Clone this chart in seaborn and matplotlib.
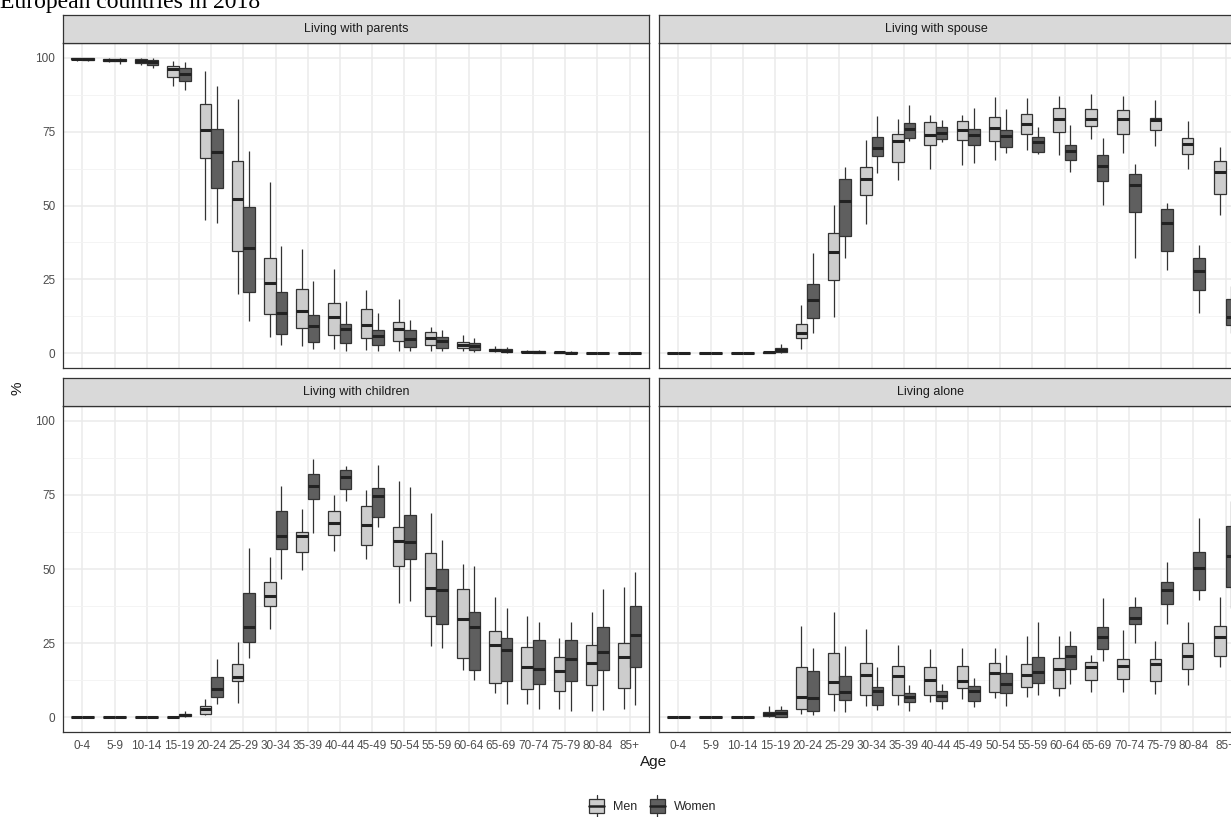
import numpy as np
import pandas as pd
import matplotlib
matplotlib.use("Agg")
import matplotlib.pyplot as plt
from matplotlib.patches import Patch, Rectangle
from matplotlib.lines import Line2D
from matplotlib.legend_handler import HandlerBase
import seaborn as sns

# age groups on the x axis
ages = ["0-4", "5-9", "10-14", "15-19", "20-24", "25-29", "30-34", "35-39", "40-44",
        "45-49", "50-54", "55-59", "60-64", "65-69", "70-74", "75-79", "80-84", "85+"]

panels = ["Living with parents", "Living with spouse", "Living with children", "Living alone"]

# five-number summaries: [lower whisker, Q1, median, Q3, upper whisker]
parents_men = [
    [99, 99.5, 99.7, 100, 100], [98.5, 99, 99.3, 99.7, 100], [97.5, 98.3, 99, 99.5, 100],
    [90.6, 93.5, 96.3, 97.1, 99], [45, 66, 75.5, 84.5, 95.4], [20.2, 34.5, 52.3, 65.2, 86.1],
    [5.5, 13.2, 23.9, 32.3, 58.1], [2.5, 8.7, 14.4, 21.6, 35.4], [1.6, 6.3, 12.3, 17, 28.4],
    [1.1, 5.3, 9.7, 15.1, 21.5], [0.9, 4.2, 8.1, 10.5, 18.2], [0.9, 2.7, 5.2, 7.2, 8.8],
    [0.8, 1.8, 2.8, 3.8, 6.2], [0.3, 0.7, 1.1, 1.6, 2.5], [0.1, 0.3, 0.5, 0.7, 1.2],
    [0, 0.1, 0.3, 0.4, 0.7], [0, 0.05, 0.1, 0.2, 0.4], [0, 0, 0.05, 0.1, 0.2]]
parents_women = [
    [99, 99.4, 99.6, 99.9, 100], [98, 98.8, 99.2, 99.6, 100], [96.5, 97.5, 98.5, 99.3, 100],
    [89, 92.2, 94.5, 96.7, 98.7], [44, 56, 68, 76, 90.5], [10.8, 20.6, 35.6, 49.5, 68.6],
    [2.7, 6.5, 13.5, 20.7, 36.3], [1.6, 3.8, 9.2, 12.9, 24.5], [0.7, 3.3, 8.1, 9.8, 17.6],
    [0.7, 2.9, 5.8, 7.9, 13.7], [0.7, 2.1, 4.7, 7.8, 11.1], [0.6, 1.8, 4.1, 5.5, 7.8],
    [0.5, 1.2, 2.3, 3.5, 5], [0.2, 0.5, 0.9, 1.3, 2.2], [0.1, 0.2, 0.4, 0.6, 1.0],
    [0, 0.1, 0.2, 0.3, 0.6], [0, 0.05, 0.1, 0.2, 0.3], [0, 0, 0.05, 0.1, 0.2]]

spouse_men = [
    [0, 0, 0, 0, 0.2], [0, 0, 0, 0, 0.2], [0, 0, 0, 0, 0.2],
    [0, 0.1, 0.3, 0.5, 0.8], [1.35, 5, 7, 9.8, 16.3], [12.1, 24.7, 34.2, 40.8, 50.1],
    [43.9, 53.6, 59, 62.9, 72.3], [58.8, 64.6, 71.7, 74.2, 79.3], [62.5, 70.6, 73.8, 78.4, 80.7],
    [63.6, 72.1, 75.7, 78.5, 80.5], [65.3, 71.7, 76.2, 80, 86.7], [68.7, 74.3, 77.7, 81, 86.4],
    [67.2, 74.9, 79.4, 83, 87.2], [72.5, 76.8, 79.4, 82.8, 87.8], [67.8, 74.3, 79.3, 82.3, 87.2],
    [70.3, 75.4, 78.8, 79.6, 85.8], [62.2, 67.5, 70.9, 72.9, 78.7], [46.8, 54, 61.3, 65, 69.7]]
spouse_women = [
    [0, 0, 0, 0, 0.2], [0, 0, 0, 0, 0.2], [0, 0, 0, 0, 0.2],
    [0.1, 0.4, 1.0, 1.8, 3.2], [6.8, 11.9, 18, 23.3, 34], [32.3, 39.6, 51.4, 59, 63.1],
    [61, 66.8, 69.5, 73.1, 80.4], [71.7, 72.9, 75.9, 78, 83.9], [71.5, 72.5, 74.6, 76.5, 79],
    [64.4, 70.6, 74, 76, 83.1], [67.8, 69.8, 73.4, 75.7, 82.7], [67.4, 68.2, 71.5, 73.2, 76.6],
    [61.4, 65.3, 68.6, 70.6, 77.1], [50.2, 58.3, 63.3, 67, 72.7], [32.3, 47.7, 56.9, 60.5, 64.2],
    [28.1, 34.7, 44.1, 48.9, 50.7], [13.7, 21.4, 28, 32.1, 36.5], [7, 9.6, 12.4, 18.5, 22.7]]

children_men = [
    [0, 0, 0, 0, 0.1], [0, 0, 0, 0, 0.1], [0, 0, 0, 0, 0.1],
    [0, 0, 0.05, 0.1, 0.2], [0.9, 1.2, 2.6, 3.8, 6.3], [4.8, 12.2, 13.6, 18.1, 25.4],
    [29.8, 37.6, 40.9, 45.5, 54.2], [49.7, 55.8, 61.3, 62.6, 70.3], [56.1, 61.4, 65.4, 69.7, 75],
    [53.3, 58.1, 64.8, 71.3, 76.5], [38.4, 51.1, 59.4, 64.1, 79.7], [24, 34.1, 43.7, 55.4, 68.8],
    [15.9, 19.9, 33.1, 43.3, 51.7], [8, 11.6, 24.3, 29.2, 40.6], [4.4, 9.4, 17, 23.8, 34.1],
    [2.7, 8.9, 15.5, 20.4, 26.7], [2, 10.7, 18.3, 24.3, 35.6], [2.7, 9.9, 20.4, 25.1, 44]]
children_women = [
    [0, 0, 0, 0, 0.1], [0, 0, 0, 0, 0.1], [0, 0, 0, 0, 0.1],
    [0.2, 0.5, 0.8, 1.2, 2], [4.3, 6.9, 9.4, 13.4, 19.5], [20, 25.4, 30.5, 41.8, 57],
    [46.5, 56.8, 61.1, 69.7, 78], [62, 73.5, 77.9, 81.9, 87.1], [73, 77, 81, 83.3, 84.8],
    [64.3, 67.5, 74.8, 77.4, 85.2], [39.2, 53.4, 59.2, 68.2, 77.7], [23.5, 31.3, 42.8, 50, 59.8],
    [12.5, 15.9, 30.5, 35.5, 51], [4.4, 12.3, 22.6, 26.8, 36.9], [2.7, 11.1, 16.3, 26.2, 32.2],
    [2.1, 12.2, 19.8, 26, 32.2], [2.4, 15.9, 22, 30.4, 43.1], [4.1, 16.8, 27.7, 37.6, 49.1]]

alone_men = [
    [0, 0, 0, 0.1, 0.2], [0, 0, 0, 0.1, 0.2], [0, 0, 0, 0.1, 0.2],
    [0, 0.3, 1.2, 1.8, 3.7], [1.2, 2.9, 6.9, 16.8, 30.8], [2.1, 7.8, 11.9, 21.5, 35.6],
    [3.7, 7.5, 14.2, 18.3, 29.7], [4.1, 7.5, 13.8, 17.3, 24.5], [5.2, 7.5, 12.5, 16.8, 23],
    [6.1, 9.8, 12.3, 17.3, 23.4], [6.6, 8.6, 15, 18.3, 23.5], [6.9, 10.2, 14.1, 17.8, 27.4],
    [7.2, 10, 16.4, 20, 27.4], [8.6, 12.5, 17, 18.5, 20.9], [8.5, 12.8, 17.2, 19.5, 29.3],
    [7.7, 12.3, 17.9, 19.5, 25.8], [11, 16.1, 20.8, 25.1, 32.2], [17, 20.6, 27, 30.8, 40.4]]
alone_women = [
    [0, 0, 0, 0.1, 0.2], [0, 0, 0, 0.1, 0.2], [0, 0, 0, 0.1, 0.2],
    [0, 0.2, 1.4, 2.4, 3.7], [0.9, 2, 6.5, 15.6, 23.2], [1.7, 5.7, 8.6, 13.9, 24],
    [2.4, 4.2, 8.8, 10.2, 17], [2.1, 5.1, 6.9, 8, 10.8], [2.7, 5.4, 7.2, 8.7, 11.3],
    [3.3, 5.4, 8.8, 10.6, 13.1], [3.8, 8.2, 11.1, 15, 20.9], [7.5, 11.5, 15.1, 20.3, 32],
    [11.1, 16.3, 20.7, 24.1, 29], [19, 23.1, 26.9, 30.5, 40.3], [25.1, 31.3, 33.3, 37.1, 40.6],
    [31.3, 38.3, 42.9, 45.7, 52.5], [39.5, 42.8, 50.4, 55.8, 67.2], [36.7, 43.8, 54.5, 64.5, 73.1]]

summaries = {
    ("Living with parents", "Men"): parents_men,
    ("Living with parents", "Women"): parents_women,
    ("Living with spouse", "Men"): spouse_men,
    ("Living with spouse", "Women"): spouse_women,
    ("Living with children", "Men"): children_men,
    ("Living with children", "Women"): children_women,
    ("Living alone", "Men"): alone_men,
    ("Living alone", "Women"): alone_women,
}

# long table: the five summary values per box, so quartiles / min / max reproduce them
rows = []
for (panel, sex), stats in summaries.items():
    for age, five in zip(ages, stats):
        for v in five:
            rows.append({"panel": panel, "Sex": sex, "Age": age, "pct": v})
df = pd.DataFrame(rows)
df["Age"] = pd.Categorical(df["Age"], categories=ages, ordered=True)

palette = {"Men": "#CDCDCD", "Women": "#5F5F5F"}
edge = "#333333"


class BoxKey(HandlerBase):
    """Legend key drawn like a little boxplot (ggplot style)."""

    def create_artists(self, legend, orig_handle, xdescent, ydescent, width, height,
                       fontsize, trans):
        x0, y0 = -xdescent, -ydescent
        fc = orig_handle.get_facecolor()
        box = Rectangle((x0 + 0.08 * width, y0 + 0.18 * height), 0.84 * width, 0.64 * height,
                        facecolor=fc, edgecolor=edge, linewidth=0.9, transform=trans)
        xm = x0 + 0.5 * width
        lo = Line2D([xm, xm], [y0 - 0.02 * height, y0 + 0.18 * height], color=edge,
                    linewidth=0.9, transform=trans)
        hi = Line2D([xm, xm], [y0 + 0.82 * height, y0 + 1.02 * height], color=edge,
                    linewidth=0.9, transform=trans)
        med = Line2D([x0 + 0.08 * width, x0 + 0.92 * width], [y0 + 0.5 * height] * 2,
                     color="#222222", linewidth=1.8, transform=trans)
        return [box, lo, hi, med]


sns.set_theme(style="white")
plt.rcParams["font.family"] = ["Liberation Sans", "DejaVu Sans"]

W, H = 1231, 817
fig = plt.figure(figsize=(W / 100, H / 100), dpi=100)


def rect(x0, y0, x1, y1):
    return [x0 / W, 1 - y1 / H, (x1 - x0) / W, (y1 - y0) / H]


panel_px = {
    "Living with parents": (63, 43, 649, 368),
    "Living with spouse": (659, 43, 1245, 368),
    "Living with children": (63, 406, 649, 732),
    "Living alone": (659, 406, 1245, 732),
}
# strip label centre (px); right column is cropped in the source so its labels sit left of centre
strip_cx = {"Living with parents": 356, "Living with spouse": 936,
            "Living with children": 356, "Living alone": 930}

for i, panel in enumerate(panels):
    x0, y0, x1, y1 = panel_px[panel]
    ax = fig.add_axes(rect(x0, y0, x1, y1))
    sub = df[df["panel"] == panel]
    sns.boxplot(data=sub, x="Age", y="pct", hue="Sex", hue_order=["Men", "Women"],
                palette=palette, saturation=1, width=0.72, gap=0,
                whis=(0, 100), showcaps=False, showfliers=False,
                linecolor=edge, linewidth=0.9,
                medianprops={"linewidth": 2.2, "color": "#222222"},
                legend=False, ax=ax)
    ax.set_xlim(-0.6, len(ages) - 0.4)
    ax.set_ylim(-5, 105)
    ax.set_yticks([0, 25, 50, 75, 100])
    ax.set_yticks([12.5, 37.5, 62.5, 87.5], minor=True)
    ax.grid(True, which="major", color="#EBEBEB", linewidth=1.1)
    ax.grid(True, which="minor", axis="y", color="#F3F3F3", linewidth=0.6)
    ax.set_axisbelow(True)
    ax.set_xlabel("")
    ax.set_ylabel("")
    for s in ax.spines.values():
        s.set_color(edge)
        s.set_linewidth(0.9)
        s.set_visible(True)
    ax.tick_params(axis="both", which="major", length=3.5, width=0.8, color=edge,
                   labelsize=8.5, labelcolor="#4D4D4D", pad=2)
    ax.tick_params(axis="both", which="minor", length=0)
    if i % 2 == 1:
        ax.tick_params(axis="y", left=False, labelleft=False)
    if i < 2:
        ax.tick_params(axis="x", bottom=False, labelbottom=False)

    # facet strip
    sx = fig.add_axes(rect(x0, y0 - 28, x1, y0))
    sx.set_facecolor("#D9D9D9")
    sx.set_xticks([])
    sx.set_yticks([])
    for s in sx.spines.values():
        s.set_color(edge)
        s.set_linewidth(0.9)
    sx.text((strip_cx[panel] - x0) / (x1 - x0), 0.5, panel, ha="center", va="center",
            fontsize=9, color="#1A1A1A", transform=sx.transAxes)

fig.text(18 / W, 1 - 388 / H, "%", rotation=90, ha="center", va="center",
         fontsize=11, color="#1A1A1A")
fig.text(654 / W, 1 - 762 / H, "Age", ha="center", va="center",
         fontsize=11, color="#1A1A1A")
fig.text(0, 1 - 8 / H, "European countries in 2018", ha="left", va="baseline",
         fontsize=17, family="Liberation Serif", color="black")

handles = [Patch(facecolor=palette[k], edgecolor=edge) for k in ["Men", "Women"]]
fig.legend(handles, ["Men", "Women"], loc="center", bbox_to_anchor=(652 / W, 1 - 806 / H),
           ncol=2, frameon=False, fontsize=9, handlelength=1.4, handleheight=2.2,
           columnspacing=0.9, handletextpad=0.6,
           handler_map={Patch: BoxKey()})

fig.savefig("out.png", dpi=100)
